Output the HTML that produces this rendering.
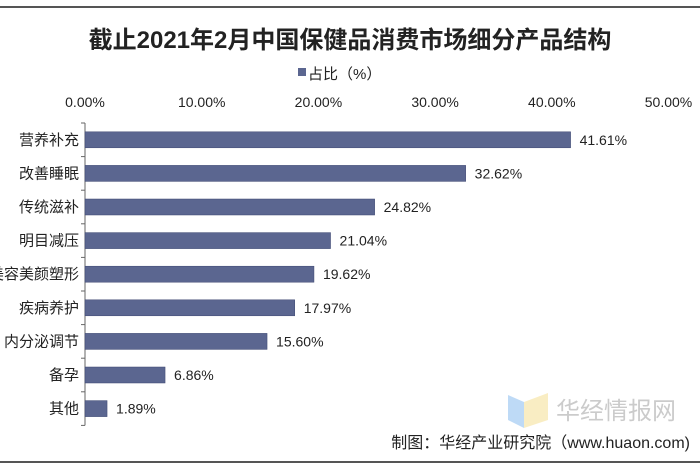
<!DOCTYPE html>
<html><head><meta charset="utf-8"><style>
body{margin:0;width:700px;height:470px;background:#fff;overflow:hidden;font-family:"Liberation Sans","Noto Sans CJK SC",sans-serif}
svg text{font-family:"Liberation Sans","Noto Sans CJK SC",sans-serif}
</style></head><body>
<svg width="700" height="470">
<line x1="0" y1="7" x2="700" y2="7" stroke="#555" stroke-width="2"/>
<line x1="0" y1="462" x2="700" y2="462" stroke="#555" stroke-width="2"/>
<text x="350" y="48" text-anchor="middle" font-size="24" font-weight="bold" fill="#222" font-family="'Liberation Serif','Noto Serif CJK SC',serif">截止2021年2月中国保健品消费市场细分产品结构</text>
<g><rect x="298" y="68" width="8" height="8" fill="#5b6690"/><text x="308" y="79" font-size="15" fill="#222">占比（%）</text></g>
<g id="g"></g>
<text x="690" y="448" text-anchor="end" font-size="16" fill="#222">制图：华经产业研究院（www.huaon.com)</text>
<g opacity="0.5"><polygon points="508,395 524,402 524,428 508,420" fill="#7fb6ef"/><polygon points="524,402 548,393 548,420 524,428" fill="#f5dd88"/><text x="556" y="419" font-size="24" fill="#999">华经情报网</text></g>
</svg>
<script>
const categories=["营养补充","改善睡眠","传统滋补","明目减压","美容美颜塑形","疾病养护","内分泌调节","备孕","其他"];
const values=[41.61,32.62,24.82,21.04,19.62,17.97,15.60,6.86,1.89];
const ticks=[0,10,20,30,40,50];
const g=document.getElementById('g');const NS="http://www.w3.org/2000/svg";
const x=v=>85+v*11.67, topY=123, step=33.6, y=i=>topY+i*step;
function mk(t,a){const e=document.createElementNS(NS,t);for(const k in a)e.setAttribute(k,a[k]);g.appendChild(e);return e;}
ticks.forEach(t=>{const e=mk('text',{x:x(t),y:107,'text-anchor':'middle','font-size':14,fill:'#222'});e.textContent=t.toFixed(2)+'%';

});
const ax=mk('line',{x1:x(0),y1:topY,x2:x(0),y2:topY+step*categories.length,stroke:'#666'});


for(let i=0;i<=categories.length;i++){mk('line',{x1:x(0)-4,y1:y(i),x2:x(0),y2:y(i),stroke:'#666'});}
categories.forEach((c,i)=>{const cy=y(i)+step/2;
const b=mk('rect',{x:x(0),y:cy-8,width:x(values[i])-x(0),height:16,fill:'#5b6690',stroke:'#3c4670','stroke-width':0.5});


const l=mk('text',{x:x(0)-6,y:cy+5,'text-anchor':'end','font-size':15,fill:'#222'});l.textContent=c;


const v=mk('text',{x:x(values[i])+9,y:cy+5,'font-size':14,fill:'#222'});v.textContent=values[i].toFixed(2)+'%';

});
</script>
</body></html>
